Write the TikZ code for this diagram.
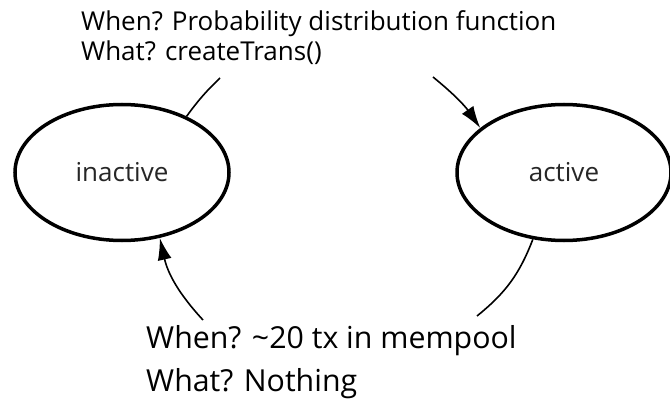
\documentclass[tikz,border=0pt]{standalone}
\usepackage{fontspec}
\setmainfont{Open Sans}
\usetikzlibrary{shapes.geometric,arrows.meta}
\begin{document}
\begin{tikzpicture}[x=1pt,y=-1pt,
  state/.style={draw,ellipse,line width=3.5pt,minimum width=214pt,minimum height=136pt,inner sep=0pt,font=\fontsize{26}{30}\selectfont,text=black!85},
  conn/.style={line width=1.6pt},
  arr/.style={conn,-{Latex[length=22pt,width=14pt]}},
  toplbl/.style={anchor=base west,inner sep=0pt,font=\fontsize{26}{30}\selectfont},
  botlbl/.style={anchor=base west,inner sep=0pt,font=\fontsize{30.3}{36}\selectfont}]
\useasboundingbox (0,0) rectangle (670,404);
\node[state] (inactive) at (122,172.5) {inactive};
\node[state] (active) at (564,172.5) {active};
\node[toplbl] (w1) at (81,31) {When? Probability distribution function};
\node[toplbl] (w2) at (81,61) {What? createTrans()};
\node[botlbl] (b1) at (146,348) {When? \textasciitilde20 tx in mempool};
\node[botlbl] (b2) at (146,391) {What? Nothing};
\coordinate (t1) at (220,78);
\coordinate (t2) at (433,77);
\coordinate (c1) at (477,316);
\coordinate (c2) at (203,320);
\draw[conn] (inactive.41) to[bend left=5] (t1);
\draw[arr] (t2) to[bend left=8] (active.152);
\draw[conn] (active.245) to[bend left=15] (c1);
\draw[arr] (c2) to[bend left=15] (inactive.300);
\end{tikzpicture}
\end{document}
